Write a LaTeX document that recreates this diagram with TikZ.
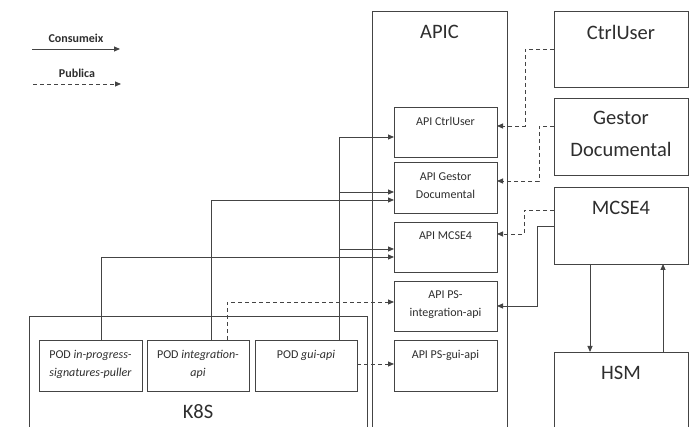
\documentclass[tikz,border=0pt]{standalone}
\usepackage{fontspec}
\setmainfont{Carlito}
\usetikzlibrary{arrows.meta}
\definecolor{ink}{HTML}{444444}
\definecolor{txt}{HTML}{2E2E2E}

\begin{document}
\begin{tikzpicture}[x=1pt,y=-1pt,
  box/.style={draw=ink, line width=0.9pt, anchor=north west, inner sep=0pt, outer sep=0pt},
  big/.style={font=\fontsize{20.5}{32}\selectfont, text=txt, align=center},
  small/.style={font=\fontsize{12}{18}\selectfont, text=txt, align=center},
  cons/.style={draw=ink, line width=0.9pt, -{Triangle[length=6pt,width=5pt]}},
  pub/.style={cons, dash pattern=on 4pt off 3pt},
]
\useasboundingbox (0,0) rectangle (697,427);
\clip (0,0) rectangle (697,427);
\fill[white] (0,0) rectangle (697,427);

% legend
\node[font=\bfseries\fontsize{12}{14}\selectfont, text=txt] (lgc) at (76,38) {Consumeix};
\coordinate (lc1) at (32,49);
\coordinate (lc2) at (120,49);
\draw[cons] (lc1) -- (lc2);
\node[font=\bfseries\fontsize{12}{14}\selectfont, text=txt] (lgp) at (77,73) {Publica};
\coordinate (lp1) at (33,84);
\coordinate (lp2) at (121,84);
\draw[pub] (lp1) -- (lp2);

% APIC gateway and its APIs
\node[box, minimum width=135pt, minimum height=440pt,
  label={[big, anchor=center, yshift=-21pt]north:APIC}] (apic) at (372,11) {};
\node[box, minimum width=103pt, minimum height=50pt,
  label={[small, anchor=center, yshift=-14.5pt]north:API CtrlUser}] (apiCU) at (394,107) {};
\node[box, minimum width=103pt, minimum height=51pt,
  label={[small, anchor=center, yshift=-24pt]north:{API Gestor\\Documental}}] (apiGD) at (394,162) {};
\node[box, minimum width=103pt, minimum height=50pt,
  label={[small, anchor=center, yshift=-13.5pt]north:API MCSE4}] (apiM) at (394,222) {};
\node[box, minimum width=103pt, minimum height=50pt,
  label={[small, anchor=center, yshift=-23.5pt]north:{API PS-\\integration-api}}] (apiPSI) at (394,281) {};
\node[box, minimum width=103pt, minimum height=51pt,
  label={[small, anchor=center, yshift=-15pt]north:API PS-gui-api}] (apiPSG) at (394,340) {};

% backend systems
\node[box, minimum width=134pt, minimum height=76pt,
  label={[big, anchor=center, yshift=-21pt]north:CtrlUser}] (ctrl) at (554,11) {};
\node[box, minimum width=134pt, minimum height=77pt,
  label={[big, anchor=center, yshift=-36pt]north:{Gestor\\Documental}}] (gestor) at (554,98) {};
\node[box, minimum width=134pt, minimum height=77pt,
  label={[big, anchor=center, yshift=-21pt]north:MCSE4}] (mcse) at (554,187) {};
\node[box, minimum width=134pt, minimum height=100pt,
  label={[big, anchor=center, yshift=-21pt]north:HSM}] (hsm) at (554,352) {};

% Kubernetes cluster and pods
\node[box, minimum width=338pt, minimum height=130pt,
  label={[big, anchor=center, yshift=-96pt]north:K8S}] (k8s) at (29,316) {};
\node[box, minimum width=103pt, minimum height=51pt,
  label={[small, anchor=center, yshift=-24pt]north:{POD \textit{in-progress-}\\\textit{signatures-puller}}}] (podIP) at (39,340) {};
\node[box, minimum width=102pt, minimum height=51pt,
  label={[small, anchor=center, yshift=-24pt]north:{POD \textit{integration-}\\\textit{api}}}] (podIA) at (147,340) {};
\node[box, minimum width=102pt, minimum height=51pt,
  label={[small, anchor=center, yshift=-15pt]north:{POD \textit{gui-api}}}] (podGA) at (255,340) {};

% pods consuming APIs
\coordinate (gtr) at ([xshift=-18pt]podGA.north east);
\draw[cons] (gtr) |- ([yshift=-30pt]apiCU.north west);
\coordinate (gd1) at ([yshift=-30pt]apiGD.north west);
\draw[cons] (gtr |- gd1) -- (gd1);
\coordinate (m1) at ([yshift=-27pt]apiM.north west);
\draw[cons] (gtr |- m1) -- (m1);
\draw[cons] ([xshift=-38pt]podIA.north east) |- ([yshift=-38pt]apiGD.north west);
\draw[cons] ([xshift=62pt]podIP.north west) |- ([yshift=-35pt]apiM.north west);

% pods publishing APIs
\draw[pub] ([xshift=80pt]podIA.north west) |- ([yshift=-21pt]apiPSI.north west);
\draw[pub] ([yshift=-24pt]podGA.north east) -- ([yshift=-24pt]apiPSG.north west);

% backends publishing / consuming
\draw[pub] ([yshift=-38pt]ctrl.north west) -- ++(-29,0) |- ([yshift=-19pt]apiCU.north east);
\draw[pub] ([yshift=-28pt]gestor.north west) -- ++(-15,0) |- ([yshift=-19pt]apiGD.north east);
\draw[pub] ([yshift=-23pt]mcse.north west) -- ++(-30,0) |- ([yshift=-12pt]apiM.north east);
\draw[cons] ([yshift=-39pt]mcse.north west) -- ++(-17,0) |- ([yshift=-25pt]apiPSI.north east);

% MCSE4 <-> HSM
\draw[cons] ([xshift=36pt]mcse.south west) -- ([xshift=36pt]hsm.north west);
\draw[cons] ([xshift=-25pt]hsm.north east) -- ([xshift=-25pt]mcse.south east);
\end{tikzpicture}
\end{document}
